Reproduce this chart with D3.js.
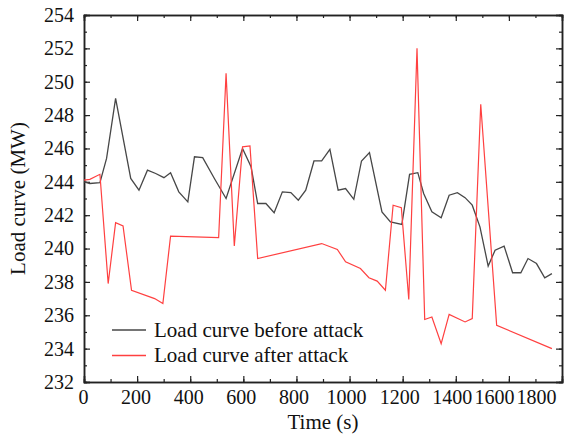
<!DOCTYPE html>
<html>
<head>
<meta charset="utf-8">
<script src="https://cdn.jsdelivr.net/npm/d3@7"></script>
<style>
  body { margin: 0; background: #fff; }
  svg text { font-family: "Liberation Serif", "Times New Roman", serif !important; }
</style>
</head>
<body>
<div id="chart"></div>
<script>
// time (s) and load (MW)
const beforeTime = [0, 22, 60, 85, 119, 176, 207, 239, 270, 301, 326, 357, 391, 416, 447, 491, 535, 597, 629, 654,
  685, 716, 747, 779, 807, 835, 866, 895, 926, 957, 985, 1016, 1045, 1075, 1122, 1154, 1197, 1226, 1257, 1279,
  1310, 1345, 1375, 1406, 1435, 1462, 1491, 1522, 1548, 1582, 1614, 1645, 1672, 1704, 1735, 1762];
const beforeLoad = [244.0, 243.9, 243.95, 245.4, 249.0, 244.2, 243.5, 244.7, 244.5, 244.25, 244.55, 243.4, 242.8, 245.5, 245.45, 244.2, 243.0, 246.0, 244.9, 242.7,
  242.7, 242.15, 243.4, 243.35, 242.9, 243.5, 245.25, 245.25, 245.95, 243.5, 243.6, 242.95, 245.25, 245.75, 242.2, 241.6, 241.45, 244.45, 244.55, 243.3,
  242.2, 241.85, 243.2, 243.35, 243.05, 242.6, 241.3, 238.95, 239.9, 240.15, 238.55, 238.55, 239.4, 239.1, 238.25, 238.5];

const afterTime = [0, 22, 60, 91, 119, 147, 179, 266, 297, 326, 507, 535, 566, 597, 625, 654, 895, 954, 985, 1041,
  1073, 1104, 1135, 1164, 1195, 1223, 1254, 1283, 1310, 1345, 1375, 1435, 1462, 1494, 1554, 1762];
const afterLoad = [244.1, 244.15, 244.45, 237.9, 241.55, 241.35, 237.5, 237.0, 236.7, 240.75, 240.65, 250.5, 240.15, 246.1, 246.15, 239.4, 240.3, 239.95, 239.2, 238.8,
  238.25, 238.05, 237.5, 242.6, 242.45, 236.95, 252.0, 235.75, 235.9, 234.3, 236.05, 235.6, 235.8, 248.65, 235.4, 234.0];

const xTicks = [0, 200, 400, 600, 800, 1000, 1200, 1400, 1600, 1800];
const yTicks = [232, 234, 236, 238, 240, 242, 244, 246, 248, 250, 252, 254];
const seriesNames = ["Load curve before attack", "Load curve after attack"];
const seriesColors = ["#474747", "#ff4040"];

const W = 575, H = 435;
const margin = { top: 15, right: 13, bottom: 53, left: 84 };
const width = W - margin.left - margin.right;
const height = H - margin.top - margin.bottom;

const svg = d3.select("#chart").append("svg")
    .attr("width", W)
    .attr("height", H)
  .append("g")
    .attr("transform", `translate(${margin.left},${margin.top})`);

const x = d3.scaleLinear().domain([0, 1800]).range([0, width]);
const y = d3.scaleLinear().domain([232, 254]).range([height, 0]);

const minorX = d3.range(0, 1801, 100);
const minorY = d3.range(232, 255, 1);

// the original squeezes the last x labels to the left
const labelShift = d => d >= 1800 ? -26 : d >= 1600 ? -15 : d >= 1400 ? -4 : -Math.min(3.5, 1 + d / 400);

// bottom axis with labels
const xAxis = svg.append("g")
  .attr("transform", `translate(0,${height})`)
  .call(d3.axisBottom(x).tickValues(xTicks).tickSize(-6).tickPadding(8).tickFormat(d3.format("d")));
xAxis.selectAll("text")
  .attr("font-size", 20).attr("fill", "#111")
  .attr("dx", d => labelShift(d));
svg.append("g")
  .attr("transform", `translate(0,${height})`)
  .call(d3.axisBottom(x).tickValues(minorX).tickSize(-3).tickFormat(""));

// top axis
svg.append("g").call(d3.axisTop(x).tickValues(xTicks).tickSize(-6).tickFormat(""));
svg.append("g").call(d3.axisTop(x).tickValues(minorX).tickSize(-3).tickFormat(""));

// left axis with labels
const yAxis = svg.append("g")
  .call(d3.axisLeft(y).tickValues(yTicks).tickSize(-6).tickPadding(10));
yAxis.selectAll("text")
  .attr("font-size", 20).attr("fill", "#111");
svg.append("g").call(d3.axisLeft(y).tickValues(minorY).tickSize(-3).tickFormat(""));

// right axis
svg.append("g").attr("transform", `translate(${width},0)`)
  .call(d3.axisRight(y).tickValues(yTicks).tickSize(-6).tickFormat(""));
svg.append("g").attr("transform", `translate(${width},0)`)
  .call(d3.axisRight(y).tickValues(minorY).tickSize(-3).tickFormat(""));

svg.selectAll(".domain").attr("stroke", "#222").attr("stroke-width", 1.5);
svg.selectAll(".tick line").attr("stroke", "#222").attr("stroke-width", 1.2);

// lines
const line = d3.line().x(d => x(d[0])).y(d => y(d[1]));
svg.append("path")
  .datum(beforeTime.map((t, i) => [t, beforeLoad[i]]))
  .attr("fill", "none")
  .attr("stroke", seriesColors[0])
  .attr("stroke-width", 1.3)
  .attr("d", line);
svg.append("path")
  .datum(afterTime.map((t, i) => [t, afterLoad[i]]))
  .attr("fill", "none")
  .attr("stroke", seriesColors[1])
  .attr("stroke-width", 1.2)
  .attr("d", line);

// legend
const legend = svg.append("g").attr("transform", "translate(28,315)");
seriesNames.forEach((name, i) => {
  const row = legend.append("g").attr("transform", `translate(0,${i * 25.5})`);
  row.append("line")
    .attr("x1", 0).attr("x2", 34)
    .attr("stroke", seriesColors[i]).attr("stroke-width", 1.3);
  row.append("text")
    .attr("x", 42).attr("dy", "0.33em")
    .attr("font-size", 21).attr("fill", "#111")
    .text(name);
});

// axis titles
svg.append("text")
  .attr("x", width / 2).attr("y", height + 47)
  .attr("text-anchor", "middle")
  .attr("font-size", 21).attr("fill", "#111")
  .text("Time (s)");

svg.append("text")
  .attr("transform", `translate(${-59},${height / 2}) rotate(-90)`)
  .attr("text-anchor", "middle")
  .attr("font-size", 21).attr("fill", "#111")
  .text("Load curve (MW)");
</script>
</body>
</html>
